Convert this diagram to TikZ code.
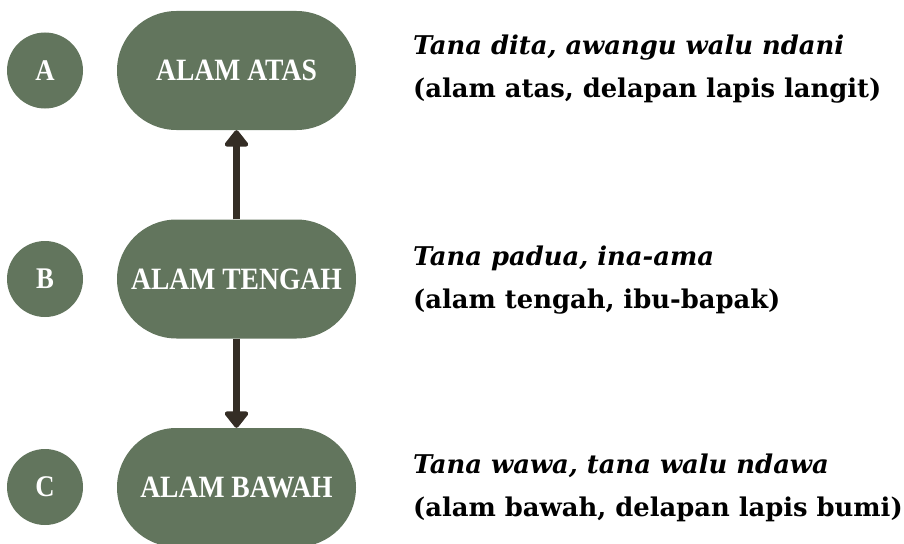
\documentclass[tikz,border=0pt]{standalone}
\usepackage{fontspec}
\setmainfont{Liberation Serif}
\newfontfamily\labelfont[FakeStretch=0.89]{Liberation Serif}
\newfontfamily\descfont{DejaVu Serif}
\usetikzlibrary{arrows.meta}
\definecolor{sage}{HTML}{62755D}
\definecolor{arrowbrown}{HTML}{342D25}
\tikzset{
  letterbox/.style={circle, fill=sage, minimum size=76pt, inner sep=0pt, text=white, font=\labelfont\bfseries\fontsize{30}{32}\selectfont},
  worldbox/.style={rectangle, rounded corners=59.5pt, fill=sage, minimum width=239pt, minimum height=119pt, inner sep=0pt, text=white, font=\labelfont\bfseries\fontsize{31}{33}\selectfont},
  desc/.style={anchor=base west, inner sep=0pt, font=\descfont\bfseries\fontsize{25.8}{28}\selectfont},
  link/.style={arrowbrown, line width=6.5pt, -{Triangle[width=27pt,length=18pt,round]}}
}
\begin{document}
\begin{tikzpicture}[x=1pt, y=-1pt]
\useasboundingbox (0,0) rectangle (904,543);
\clip (0,0) rectangle (904,543);
\node[letterbox] (a) at (45,70.5) {A};
\node[letterbox] (b) at (45,279) {B};
\node[letterbox] (c) at (45,487) {C};
\node[worldbox] (atas) at (236.5,70.5) {ALAM ATAS};
\node[worldbox] (tengah) at (236.5,279) {ALAM TENGAH};
\node[worldbox] (bawah) at (236.5,487.5) {ALAM BAWAH};
\draw[link] (tengah.north) -- (atas.south);
\draw[link] (tengah.south) -- (bawah.north);
\node[desc] (t1) at (413,55) {\itshape Tana dita, awangu walu ndani};
\node[desc] (t2) at (413,97) {(alam atas, delapan lapis langit)};
\node[desc] (t3) at (413,265) {\itshape Tana padua, ina-ama};
\node[desc] (t4) at (413,308) {(alam tengah, ibu-bapak)};
\node[desc] (t5) at (413,473) {\itshape Tana wawa, tana walu ndawa};
\node[desc] (t6) at (413,516) {(alam bawah, delapan lapis bumi)};
\end{tikzpicture}
\end{document}
